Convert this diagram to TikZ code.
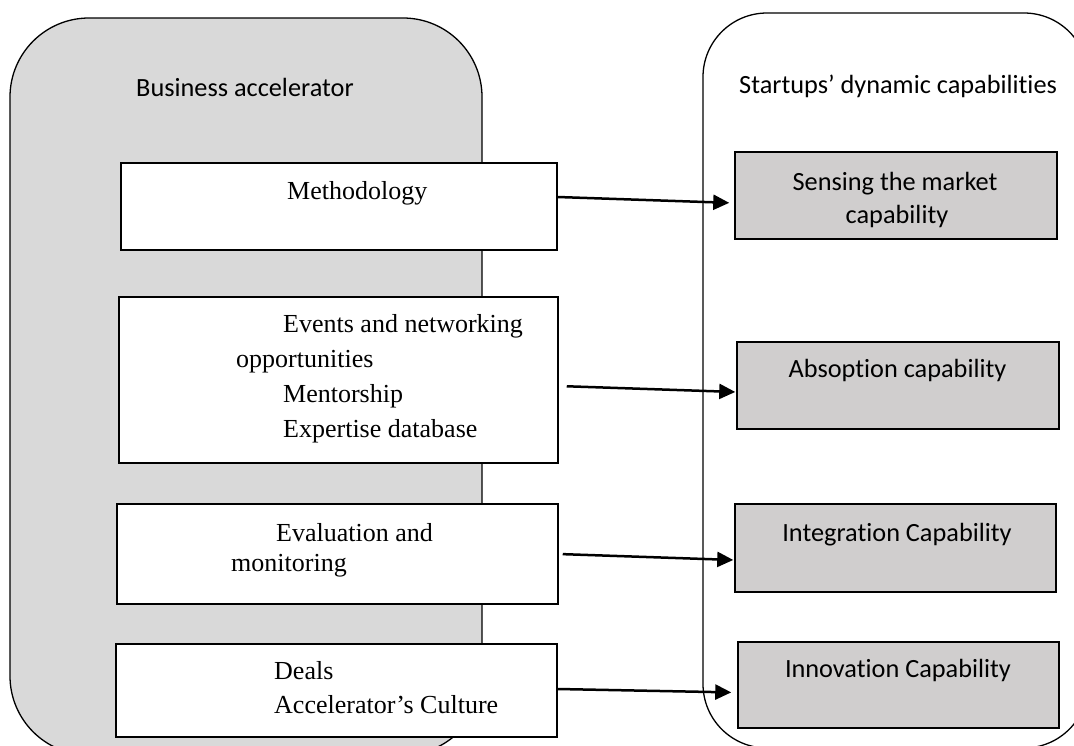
\documentclass[tikz,border=0pt]{standalone}
\usepackage{fontspec}
\setmainfont{Liberation Serif}
\newfontfamily\calib[Ligatures={NoCommon,NoRare,NoContextual}]{Carlito}
\usetikzlibrary{arrows.meta}
\definecolor{panelgray}{HTML}{D9D9D9}
\definecolor{capgray}{HTML}{D0CECE}
\begin{document}
\begin{tikzpicture}[x=1pt,y=-1pt,
  panel/.style={draw=black, line width=1.3pt, inner sep=0pt},
  wbox/.style={draw=black, fill=white, line width=1.5pt, inner sep=0pt},
  gbox/.style={draw=black, fill=capgray, line width=1.5pt, inner sep=0pt},
  serif/.style={inner sep=0pt, anchor=base west, font=\fontsize{26}{30}\selectfont},
  sans/.style={inner sep=0pt, font=\calib\fontsize{26.3}{30}\selectfont},
  arr/.style={line width=2.5pt, -{Triangle[length=16pt,width=15pt]}}]
\useasboundingbox (0,0) rectangle (1074,745);
\clip (0,0) rectangle (1074,745);

% the two panels
\node[panel, fill=panelgray, rounded corners=79pt, minimum width=472pt, minimum height=737pt] (accel) at (246,386.5) {};
\node[panel, fill=white, rounded corners=64pt, minimum width=385pt, minimum height=735pt] (caps) at (895.5,380.5) {};
\node[sans, anchor=base west] (accelT) at (136,96) {Business accelerator};
\node[sans, anchor=base west] (capsT) at (739,93) {Startups’ dynamic capabilities};

% accelerator elements
\node[wbox, minimum width=436pt, minimum height=87pt] (meth) at (339,206.5) {};
\node[wbox, minimum width=439pt, minimum height=166pt] (events) at (338.5,380) {};
\node[wbox, minimum width=441pt, minimum height=100pt] (eval) at (337.5,554) {};
\node[wbox, minimum width=441pt, minimum height=93pt] (deals) at (336.5,690.5) {};

\node[serif] (methT) at (287,199) {Methodology};
\node[serif] (eventsA) at (283,332) {Events and networking};
\node[serif] (eventsB) at (236,367) {opportunities};
\node[serif] (eventsC) at (283,402) {Mentorship};
\node[serif] (eventsD) at (283,437) {Expertise database};
\node[serif] (evalA) at (276,541) {Evaluation and};
\node[serif] (evalB) at (231,571) {monitoring};
\node[serif] (dealsA) at (274,679) {Deals};
\node[serif] (dealsB) at (274,713) {Accelerator’s Culture};

% capability boxes
\node[gbox, minimum width=322pt, minimum height=87pt] (sense) at (896,195.5) {};
\node[gbox, minimum width=322pt, minimum height=87pt] (absorb) at (898,385.5) {};
\node[gbox, minimum width=321pt, minimum height=88pt] (integ) at (895.5,548) {};
\node[gbox, minimum width=321pt, minimum height=86pt] (innov) at (898.5,685) {};

\node[sans, anchor=base] (senseA) at (895,190) {Sensing the market};
\node[sans, anchor=base] (senseB) at (897,223) {capability};
\node[sans, anchor=base] (absorbT) at (897.5,377) {Absoption capability};
\node[sans, anchor=base] (integT) at (897,541) {Integration Capability};
\node[sans, anchor=base] (innovT) at (898,677) {Innovation Capability};

% connectors
\draw[arr, shorten >=5pt] ([yshift=9.5pt]meth.east) -- ([yshift=-7.5pt]sense.west);
\draw[arr, shorten <=8pt, shorten >=1pt] ([yshift=-6pt]events.east) -- ([yshift=-6.5pt]absorb.west);
\draw[arr, shorten <=4pt, shorten >=1pt] (eval.east) -- ([yshift=-12pt]integ.west);
\draw[arr, shorten >=6pt] ([yshift=1.5pt]deals.east) -- ([yshift=-7.5pt]innov.west);
\end{tikzpicture}
\end{document}
